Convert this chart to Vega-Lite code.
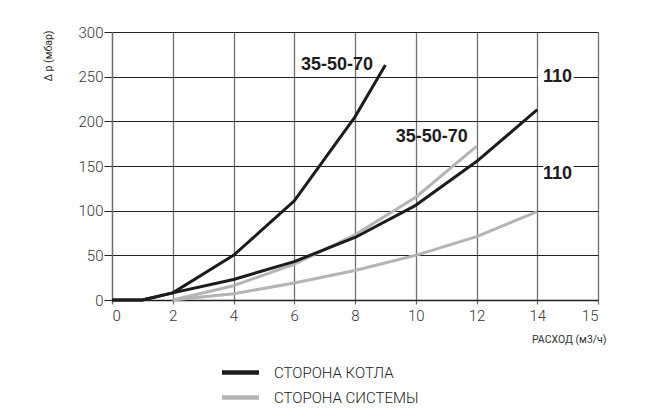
{
  "$schema": "https://vega.github.io/schema/vega-lite/v6.json",
  "autosize": "none",
  "padding": {"left": 112, "top": 32, "right": 70, "bottom": 119},
  "width": 486,
  "height": 268,
  "background": "white",
  "config": {
    "view": {"stroke": null},
    "axis": {"labelFont": "Roboto", "labelFontWeight": 300, "labelColor": "#333", "titleFont": "Roboto", "titleFontWeight": 400, "titleColor": "#333"}
  },
  "datasets": {
    "curves": [
      {"curve": "k1", "side": "СТОРОНА КОТЛА", "q": 0, "dp": 0},
      {"curve": "k1", "side": "СТОРОНА КОТЛА", "q": 1, "dp": 0},
      {"curve": "k1", "side": "СТОРОНА КОТЛА", "q": 2, "dp": 8},
      {"curve": "k1", "side": "СТОРОНА КОТЛА", "q": 4, "dp": 50},
      {"curve": "k1", "side": "СТОРОНА КОТЛА", "q": 6, "dp": 111},
      {"curve": "k1", "side": "СТОРОНА КОТЛА", "q": 8, "dp": 205},
      {"curve": "k1", "side": "СТОРОНА КОТЛА", "q": 9, "dp": 263},
      {"curve": "k2", "side": "СТОРОНА КОТЛА", "q": 0, "dp": 0},
      {"curve": "k2", "side": "СТОРОНА КОТЛА", "q": 1, "dp": 0},
      {"curve": "k2", "side": "СТОРОНА КОТЛА", "q": 2, "dp": 8},
      {"curve": "k2", "side": "СТОРОНА КОТЛА", "q": 4, "dp": 23},
      {"curve": "k2", "side": "СТОРОНА КОТЛА", "q": 6, "dp": 43},
      {"curve": "k2", "side": "СТОРОНА КОТЛА", "q": 8, "dp": 70},
      {"curve": "k2", "side": "СТОРОНА КОТЛА", "q": 10, "dp": 106},
      {"curve": "k2", "side": "СТОРОНА КОТЛА", "q": 12, "dp": 155},
      {"curve": "k2", "side": "СТОРОНА КОТЛА", "q": 14, "dp": 213},
      {"curve": "s1", "side": "СТОРОНА СИСТЕМЫ", "q": 2, "dp": 0},
      {"curve": "s1", "side": "СТОРОНА СИСТЕМЫ", "q": 4, "dp": 16},
      {"curve": "s1", "side": "СТОРОНА СИСТЕМЫ", "q": 6, "dp": 40},
      {"curve": "s1", "side": "СТОРОНА СИСТЕМЫ", "q": 8, "dp": 73},
      {"curve": "s1", "side": "СТОРОНА СИСТЕМЫ", "q": 10, "dp": 115},
      {"curve": "s1", "side": "СТОРОНА СИСТЕМЫ", "q": 12, "dp": 172},
      {"curve": "s2", "side": "СТОРОНА СИСТЕМЫ", "q": 2, "dp": 0},
      {"curve": "s2", "side": "СТОРОНА СИСТЕМЫ", "q": 4, "dp": 7},
      {"curve": "s2", "side": "СТОРОНА СИСТЕМЫ", "q": 6, "dp": 19},
      {"curve": "s2", "side": "СТОРОНА СИСТЕМЫ", "q": 8, "dp": 33},
      {"curve": "s2", "side": "СТОРОНА СИСТЕМЫ", "q": 10, "dp": 50},
      {"curve": "s2", "side": "СТОРОНА СИСТЕМЫ", "q": 12, "dp": 71},
      {"curve": "s2", "side": "СТОРОНА СИСТЕМЫ", "q": 14, "dp": 99}
    ],
    "boxes": [
      {"x1": 14.03, "x2": 15.2, "y1": 240, "y2": 260},
      {"x1": 14.2, "x2": 15.2, "y1": 130, "y2": 152}
    ],
    "labels": [
      {"q": 7.41, "dp": 263, "text": "35-50-70"},
      {"q": 10.53, "dp": 183, "text": "35-50-70"},
      {"q": 14.67, "dp": 250, "text": "110"},
      {"q": 14.67, "dp": 140.5, "text": "110"}
    ]
  },
  "layer": [
    {
      "data": {"name": "curves"},
      "transform": [{"filter": "datum.side == 'СТОРОНА СИСТЕМЫ'"}],
      "mark": {"type": "line", "strokeWidth": 3, "strokeJoin": "round"},
      "encoding": {
        "x": {"field": "q", "type": "quantitative",
          "scale": {"domain": [0, 16], "nice": false},
          "axis": {"values": [0, 2, 4, 6, 8, 10, 12, 14, 16],
            "labelExpr": "datum.value == 16 ? '15' : datum.label",
            "grid": true, "gridColor": "#707070", "gridWidth": 1.3, "gridOpacity": 1,
            "domainColor": "#222", "domainWidth": 1.3,
            "tickColor": "#707070", "tickSize": 4, "tickWidth": 1.3,
            "labelFontSize": 15, "labelPadding": 4,
            "title": "РАСХОД (м3/ч)", "titleFontSize": 10.5,
            "titleAnchor": "end", "titleAlign": "right", "titleX": 494, "titleY": 39, "titleBaseline": "middle"}},
        "y": {"field": "dp", "type": "quantitative",
          "scale": {"domain": [0, 300], "nice": false},
          "axis": {"values": [0, 50, 100, 150, 200, 250, 300],
            "grid": true, "gridColor": "#222", "gridWidth": 1, "gridOpacity": 1,
            "domainColor": "#707070", "domainWidth": 1.3,
            "tickColor": "#222", "tickSize": 8, "tickWidth": 1,
            "labelFontSize": 15, "labelPadding": 1,
            "title": "Δ p (мбар)", "titleFontSize": 10.5,
            "titleAngle": -90, "titleAlign": "right", "titleBaseline": "middle",
            "titleX": -64, "titleY": -2}},
        "color": {"field": "side", "type": "nominal",
          "scale": {"domain": ["СТОРОНА КОТЛА", "СТОРОНА СИСТЕМЫ"], "range": ["#1c1c1c", "#b4b4b4"]},
          "legend": {"orient": "none", "legendX": 117, "legendY": 329, "title": null,
            "symbolType": "M-2,0H2", "symbolSize": 342, "symbolStrokeWidth": 4.5,
            "labelFont": "Roboto", "labelFontWeight": 300, "labelFontSize": 15, "labelColor": "#222",
            "labelOffset": 22, "rowPadding": 4}},
        "detail": {"field": "curve"}
      }
    },
    {
      "data": {"name": "curves"},
      "transform": [{"filter": "datum.side == 'СТОРОНА КОТЛА'"}],
      "mark": {"type": "line", "strokeWidth": 3, "strokeJoin": "round"},
      "encoding": {
        "x": {"field": "q", "type": "quantitative"},
        "y": {"field": "dp", "type": "quantitative"},
        "color": {"field": "side", "type": "nominal"},
        "detail": {"field": "curve"}
      }
    },
    {
      "data": {"name": "boxes"},
      "mark": {"type": "rect", "fill": "white", "stroke": null},
      "encoding": {
        "x": {"field": "x1", "type": "quantitative"},
        "x2": {"field": "x2"},
        "y": {"field": "y1", "type": "quantitative"},
        "y2": {"field": "y2"}
      }
    },
    {
      "data": {"name": "labels"},
      "mark": {"type": "text", "font": "Liberation Sans", "fontWeight": "bold", "fontSize": 18, "color": "#1c1c1c", "align": "center", "baseline": "middle"},
      "encoding": {
        "x": {"field": "q", "type": "quantitative"},
        "y": {"field": "dp", "type": "quantitative"},
        "text": {"field": "text"}
      }
    }
  ]
}
